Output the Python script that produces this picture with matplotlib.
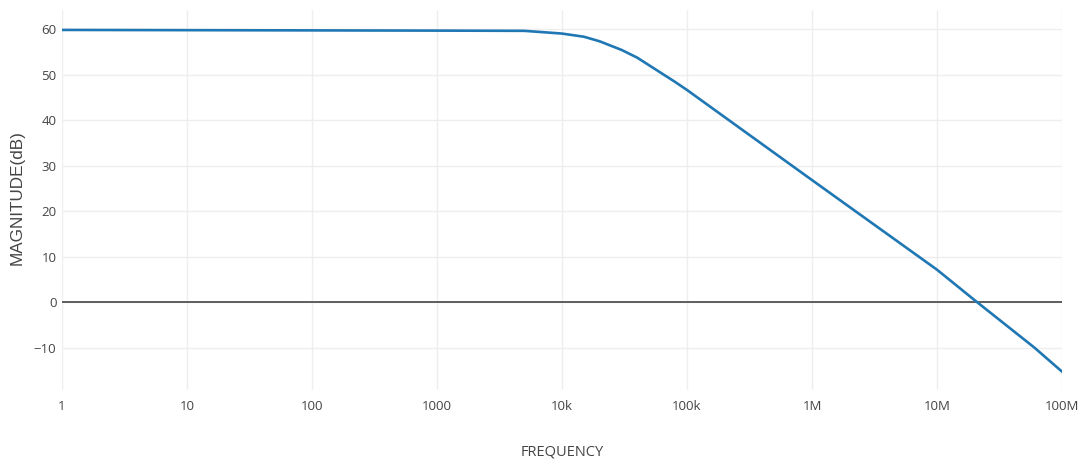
import matplotlib
matplotlib.use("Agg")
import matplotlib.pyplot as plt
import numpy as np

freq = [1, 10, 100, 1000, 5000, 10e3, 15e3, 20e3, 30e3, 40e3, 60e3, 80e3,
        100e3, 1e6, 10e6, 20e6, 60e6, 100e6]
mag_db = [59.8, 59.75, 59.7, 59.65, 59.6, 59.0, 58.3, 57.3, 55.4, 53.7, 50.6, 48.4,
          46.6, 26.8, 7.1, 0.4, -10.0, -15.3]

xtick_vals = [1, 10, 100, 1000, 1e4, 1e5, 1e6, 1e7, 1e8]
xtick_labels = ["1", "10", "100", "1000", "10k", "100k", "1M", "10M", "100M"]
ytick_vals = [-10, 0, 10, 20, 30, 40, 50, 60]
ytick_labels = ["\u221210", "0", "10", "20", "30", "40", "50", "60"]

plt.rcParams['font.family'] = ['Open Sans', 'DejaVu Sans']

fig = plt.figure(figsize=(10.86, 4.65), dpi=100)
ax = fig.add_axes([62/1086, 1-390/465, 1000/1086, 380/465])

ax.set_xscale('log')
ax.set_xlim(1, 1e8)
ax.set_ylim(-19.34, 64.18)

ax.grid(True, which='major', color='#eeeeee', linewidth=1)
ax.minorticks_off()
ax.axhline(0, color='#444444', linewidth=1.2, zorder=2)

ax.plot(freq, mag_db, color='#1f77b4', linewidth=1.9, zorder=3, solid_joinstyle='round')

ax.set_xticks(xtick_vals)
ax.set_xticklabels(xtick_labels)
ax.set_yticks(ytick_vals)
ax.set_yticklabels(ytick_labels)
ax.tick_params(axis='both', length=0, labelsize=9.5, labelcolor='#444444')
ax.tick_params(axis='x', pad=7)
ax.tick_params(axis='y', pad=4)

for s in ax.spines.values():
    s.set_visible(False)

fig.text(562/1086, 1-452/465, "FREQUENCY", ha='center', va='center', fontsize=10.5, color='#444444')
fig.text(17/1086, 1-198/465, "MAGNITUDE(dB)", ha='center', va='center', rotation=90,
         fontsize=12.3, color='#444444', family=['Liberation Sans', 'DejaVu Sans'])

fig.savefig("out.png", dpi=100, facecolor='white')
